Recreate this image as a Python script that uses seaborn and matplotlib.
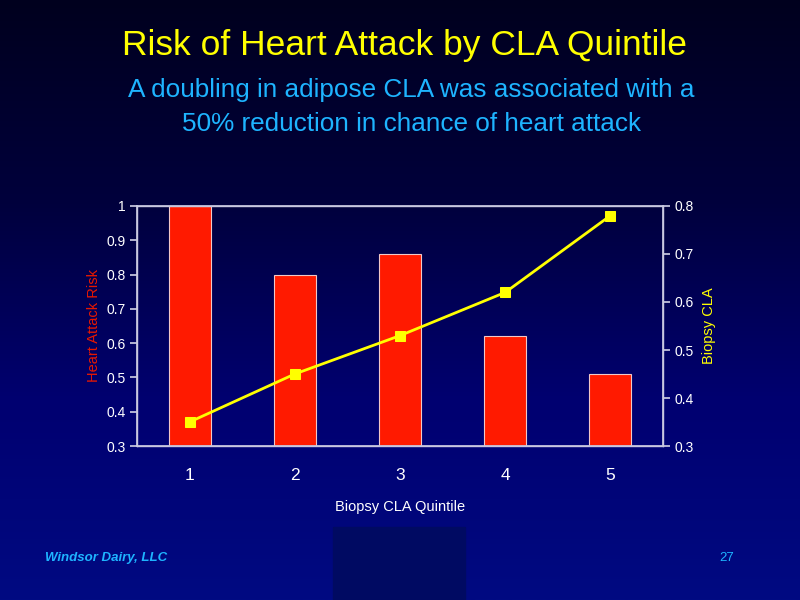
"""Risque d'infarctus par quintile de CLA (barres + courbe sur axe secondaire)."""

import matplotlib.pyplot as plt
import numpy as np
import pandas as pd
import seaborn as sns
from matplotlib.patches import Rectangle

quintiles = ["1", "2", "3", "4", "5"]
heart_attack_risk = [1.0, 0.80, 0.86, 0.62, 0.51]
biopsy_cla = [0.35, 0.45, 0.53, 0.62, 0.78]

BAR_RED = "#FF1A00"
YELLOW = "#FFFF00"
SKY = "#1EB4FF"

sns.set_theme(style="white")
plt.rcParams["font.family"] = ["Liberation Sans", "DejaVu Sans"]

fig = plt.figure(figsize=(8, 6), dpi=100)

# fond degrade bleu nuit
bg = fig.add_axes([0, 0, 1, 1], zorder=-10)
grad = np.linspace(0, 1, 256).reshape(-1, 1)
cmap = sns.blend_palette(["#00001E", "#00003C", "#000070", "#000A82"], as_cmap=True)
bg.imshow(grad, aspect="auto", cmap=cmap, extent=[0, 1, 0, 1])
bg.add_patch(Rectangle((333 / 800, 0), 132 / 800, 73 / 600, color="#000A62", zorder=2))
bg.set_axis_off()

data = pd.DataFrame({"quintile": quintiles, "risk": heart_attack_risk, "cla": biopsy_cla})

ax = fig.add_axes([137 / 800, 154 / 600, 526 / 800, 240 / 600])
ax.set_facecolor("none")
sns.barplot(data=data, x="quintile", y="risk", color=BAR_RED, saturation=1, width=0.4,
            edgecolor="#F0C8C8", linewidth=0.8, ax=ax)
ax.set_ylim(0.3, 1.0)
ax.set_xlim(-0.5, 4.5)
ax.set_yticks(np.arange(0.3, 1.01, 0.1))
ax.set_yticklabels(["0.3", "0.4", "0.5", "0.6", "0.7", "0.8", "0.9", "1"])
ax.set_xticks(np.arange(-0.5, 4.6, 1), minor=True)
ax.tick_params(axis="x", which="major", length=0, colors="white", labelsize=12.5, pad=16)
ax.tick_params(axis="x", which="minor", length=5, color="#C8C8E0", direction="out", width=1)
ax.tick_params(axis="y", length=5, color="#C8C8E0", direction="out", colors="white", labelsize=10, pad=3)
ax.tick_params(axis="y", colors="#C8C8E0", labelcolor="white")
for spine in ax.spines.values():
    spine.set_color("#C8C8E0")
    spine.set_linewidth(1)
ax.set_xlabel("Biopsy CLA Quintile", color="white", fontsize=10.5, labelpad=12)
ax.set_ylabel("Heart Attack Risk", color="#E81800", fontsize=10.5, labelpad=4)

ax2 = ax.twinx()
sns.lineplot(data=data, x="quintile", y="cla", color=YELLOW, linewidth=2, marker="s",
             markersize=7, markeredgecolor=YELLOW, ax=ax2)
ax2.set_ylim(0.3, 0.8)
ax2.set_yticks(np.arange(0.3, 0.81, 0.1))
ax2.set_yticklabels(["0.3", "0.4", "0.5", "0.6", "0.7", "0.8"])
ax2.tick_params(axis="y", length=5, color="#C8C8E0", direction="out", labelcolor="white", labelsize=10, pad=3)
for spine in ax2.spines.values():
    spine.set_color("#C8C8E0")
ax2.set_ylabel("Biopsy CLA", color=YELLOW, fontsize=10.5, labelpad=6)
ax2.set_xlim(-0.5, 4.5)

fig.text(0.506, 554 / 600, "Risk of Heart Attack by CLA Quintile", color=YELLOW,
         fontsize=25.5, ha="center", va="center")
fig.text(0.514, 493 / 600, "A doubling in adipose CLA was associated with a\n50% reduction in chance of heart attack",
         color=SKY, fontsize=18.8, ha="center", va="center", linespacing=1.5)
fig.text(45 / 800, 42 / 600, "Windsor Dairy, LLC", color=SKY, fontsize=9.5, fontstyle="italic",
         fontweight="bold", ha="left", va="center")
fig.text(727 / 800, 42 / 600, "27", color=SKY, fontsize=9.5, ha="center", va="center")

fig.savefig("out.png", dpi=100)
